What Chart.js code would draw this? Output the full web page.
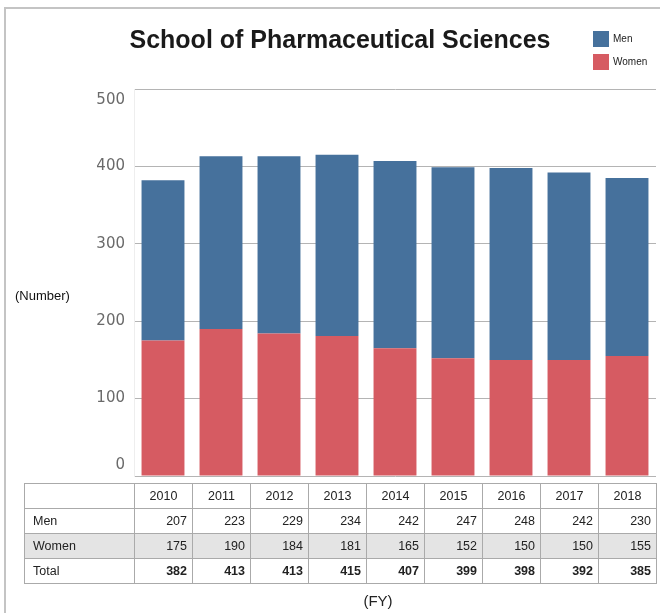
<!DOCTYPE html>
<html>
<head>
<meta charset="utf-8">
<script src="https://cdn.jsdelivr.net/npm/chart.js@4"></script>
<style>
    body { margin: 0; background: #fff; font-family: "Liberation Sans", Arial, sans-serif; }
    #wrap { position: relative; width: 660px; height: 613px; overflow: hidden; }
    #frame { position: absolute; left: 4px; top: 7px; width: 700px; height: 700px; border: 2px solid #c4c4c4; box-sizing: border-box; }
    #title { position: absolute; left: 0; width: 680px; top: 25px; text-align: center; font-size: 25px; font-weight: bold; color: #1a1a1a; }
    #legend { position: absolute; left: 593px; top: 27px; font-size: 10px; color: #222; }
    #legend div { display: flex; align-items: center; height: 23px; }
    #legend span.box { display: inline-block; width: 16px; height: 16px; margin-right: 4px; }
    #ylabel { position: absolute; left: 15px; top: 288px; font-size: 13px; color: #111; }
    #chart { position: absolute; left: 0; top: 0; }
    table { position: absolute; left: 24px; top: 483px; border-collapse: collapse; table-layout: fixed; font-size: 12.5px; color: #222; }
    td { border: 1px solid #aaa; height: 24px; padding: 0 5px; text-align: right; }
    td.lab { text-align: left; padding-left: 8px; }
    tr.head td { text-align: center; }
    tr.grey td { background: #e4e4e4; }
    tr.total td { font-weight: bold; }
    #fy { position: absolute; left: 0; width: 756px; top: 592px; text-align: center; font-size: 15px; color: #222; }
</style>
</head>
<body>
<div id="wrap">
    <div id="frame"></div>
    <canvas id="chart" width="660" height="613"></canvas>
    <div id="title">School of Pharmaceutical Sciences</div>
    <div id="legend"></div>
    <div id="ylabel">(Number)</div>
    <table id="tbl"></table>
    <div id="fy">(FY)</div>
</div>
<script>
const years = ['2010', '2011', '2012', '2013', '2014', '2015', '2016', '2017', '2018'];
const men = [207, 223, 229, 234, 242, 247, 248, 242, 230];
const women = [175, 190, 184, 181, 165, 152, 150, 150, 155];
const totals = [382, 413, 413, 415, 407, 399, 398, 392, 385];
const yTicks = [0, 100, 200, 300, 400, 500];

const menColor = '#46719c';
const womenColor = '#d65b62';

document.addEventListener('DOMContentLoaded', () => {
    buildLegend();
    buildTable();
    drawChart();
});

function buildLegend() {
    let html = '';
    [['Men', menColor], ['Women', womenColor]].forEach(([name, col]) => {
        html += '<div><span class="box" style="background:' + col + '"></span>' + name + '</div>';
    });
    document.getElementById('legend').innerHTML = html;
}

function buildTable() {
    let html = '<colgroup><col style="width:110px">';
    years.forEach(() => { html += '<col style="width:58px">'; });
    html += '</colgroup>';
    html += '<tr class="head"><td></td>' + years.map(y => '<td>' + y + '</td>').join('') + '</tr>';
    html += '<tr><td class="lab">Men</td>' + men.map(v => '<td>' + v + '</td>').join('') + '</tr>';
    html += '<tr class="grey"><td class="lab">Women</td>' + women.map(v => '<td>' + v + '</td>').join('') + '</tr>';
    html += '<tr class="total"><td class="lab" style="font-weight:normal">Total</td>' + totals.map(v => '<td>' + v + '</td>').join('') + '</tr>';
    document.getElementById('tbl').innerHTML = html;
}

function drawChart() {
    let ctx = document.getElementById('chart').getContext('2d');

    new Chart(ctx, {
        type: 'bar',
        data: {
            labels: years,
            datasets: [{
                label: 'Women',
                data: women,
                backgroundColor: womenColor,
                barPercentage: 0.74,
                categoryPercentage: 1
            }, {
                label: 'Men',
                data: men,
                backgroundColor: menColor,
                barPercentage: 0.74,
                categoryPercentage: 1
            }]
        },
        options: {
            responsive: false,
            animation: false,
            layout: {
                padding: { left: 0, right: 4, top: 89, bottom: 137 }
            },
            plugins: {
                legend: { display: false },
                title: { display: false },
                tooltip: { enabled: false }
            },
            scales: {
                x: {
                    stacked: true,
                    display: false
                },
                y: {
                    stacked: true,
                    min: 0,
                    max: 500,
                    afterFit: (scale) => { scale.width = 134; },
                    afterBuildTicks: (scale) => {
                        scale.ticks = yTicks.map(v => ({ value: v }));
                    },
                    grid: {
                        color: '#b4b4b4',
                        drawTicks: false
                    },
                    border: { color: '#eeeeee' },
                    ticks: {
                        padding: 9,
                        color: '#6a6a6a',
                        font: { family: 'DejaVu Sans', size: 15, lineHeight: 1.5 },
                        // top label sits under its line, bottom one above the baseline
                        callback: (value) => {
                            if (value === 500) return ['', '500'];
                            if (value === 0) return ['0', ''];
                            return String(value);
                        }
                    }
                }
            }
        }
    });
}
</script>
</body>
</html>
